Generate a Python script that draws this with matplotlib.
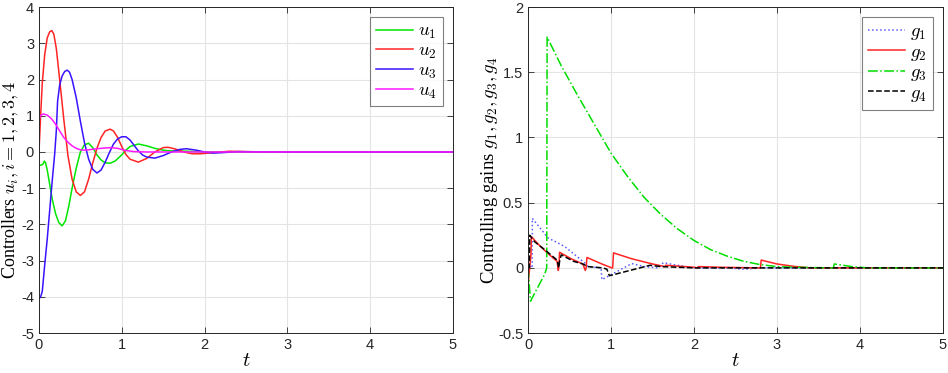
import matplotlib
matplotlib.use("Agg")
import matplotlib.pyplot as plt
import numpy as np

plt.rcParams['font.family'] = ['Liberation Sans', 'DejaVu Sans']
plt.rcParams['mathtext.fontset'] = 'cm'

# ---------------- left panel data ----------------
t_u1 = [0, 0.03, 0.05, 0.065, 0.08, 0.1, 0.13, 0.16, 0.2, 0.24, 0.28, 0.32, 0.36, 0.4, 0.45,
        0.5, 0.55, 0.6, 0.65, 0.7, 0.75, 0.8, 0.86, 0.92, 1.0, 1.05, 1.1, 1.2, 1.3, 1.4, 1.5,
        1.6, 1.8, 2.0, 5.0]
u1 = [-0.37, -0.36, -0.33, -0.25, -0.3, -0.5, -0.9, -1.3, -1.7, -1.95, -2.04, -1.9, -1.5, -1.0, -0.45,
      0.0, 0.2, 0.24, 0.12, -0.08, -0.22, -0.3, -0.31, -0.25, -0.08, 0.05, 0.15, 0.22, 0.17, 0.1, 0.05,
      0.03, 0.02, 0.0, 0.0]

t_u2 = [0, 0.02, 0.04, 0.07, 0.1, 0.13, 0.155, 0.18, 0.21, 0.25, 0.3, 0.35, 0.4, 0.45, 0.5, 0.55,
        0.6, 0.65, 0.7, 0.75, 0.8, 0.86, 0.9, 0.95, 1.0, 1.05, 1.1, 1.2, 1.3, 1.4, 1.5, 1.56, 1.65,
        1.75, 1.85, 1.95, 2.1, 2.3, 2.5, 2.8, 5.0]
u2 = [0.0, 1.0, 1.9, 2.7, 3.15, 3.32, 3.35, 3.25, 2.85, 2.0, 0.9, -0.1, -0.75, -1.1, -1.2, -1.1,
      -0.75, -0.3, 0.1, 0.4, 0.58, 0.63, 0.58, 0.4, 0.15, -0.07, -0.2, -0.28, -0.18, 0.0, 0.12, 0.13, 0.08,
      0.0, -0.05, -0.05, -0.02, 0.02, 0.01, 0.0, 0.0]

t_u3 = [0, 0.02, 0.04, 0.07, 0.1, 0.13, 0.16, 0.19, 0.21, 0.225, 0.25, 0.28, 0.31, 0.34, 0.37, 0.4,
        0.45, 0.5, 0.55, 0.6, 0.65, 0.7, 0.75, 0.8, 0.85, 0.9, 0.95, 1.0, 1.05, 1.1, 1.15, 1.2, 1.25,
        1.3, 1.4, 1.5, 1.6, 1.7, 1.78, 1.9, 2.0, 2.1, 2.2, 2.4, 2.6, 3.0, 5.0]
u3 = [-4.05, -4.0, -3.85, -3.1, -2.4, -1.6, -0.8, -0.05, 0.6, 1.4, 1.85, 2.1, 2.22, 2.26, 2.2, 2.0,
      1.5, 0.85, 0.25, -0.2, -0.48, -0.58, -0.5, -0.28, -0.02, 0.22, 0.36, 0.42, 0.42, 0.33, 0.18, 0.03, -0.08,
      -0.14, -0.17, -0.1, 0.0, 0.07, 0.09, 0.05, 0.0, -0.03, -0.02, 0.01, 0.005, 0.0, 0.0]

t_u4 = [0, 0.015, 0.05, 0.1, 0.15, 0.2, 0.25, 0.3, 0.35, 0.4, 0.45, 0.5, 0.55, 0.6, 0.7, 0.8, 0.87,
        0.95, 1.0, 1.05, 1.15, 1.3, 5.0]
u4 = [0.88, 1.0, 1.05, 1.02, 0.92, 0.77, 0.58, 0.4, 0.27, 0.17, 0.1, 0.06, 0.05, 0.06, 0.09, 0.11, 0.12,
      0.1, 0.07, 0.04, 0.01, 0.0, 0.0]

# ---------------- right panel data ----------------
t_g1 = [0, 0.02, 0.04, 0.05, 0.052, 0.24, 0.44, 0.68, 0.72, 0.88, 0.89, 1.25, 1.4, 1.57, 1.63, 1.8, 2.0,
        2.4, 2.6, 2.8, 5.0]
g1 = [0.0, 0.02, 0.0, 0.0, 0.38, 0.23, 0.165, 0.04, 0.01, 0.0, -0.09, 0.033, 0.01, 0.0, 0.04, 0.02, 0.0,
      0.0, -0.01, 0.0, 0.0]

t_g2 = [0, 0.035, 0.04, 0.125, 0.24, 0.35, 0.365, 0.372, 0.38, 0.52, 0.66, 0.69, 0.70, 0.71, 0.89, 1.01,
        1.02, 1.03, 1.25, 1.5, 1.65, 1.66, 1.77, 2.0, 2.04, 2.05, 2.3, 2.8, 2.81, 3.0, 3.2, 3.4, 5.0]
g2 = [-0.13, 0.1, 0.24, 0.18, 0.11, 0.05, -0.02, 0.01, 0.12, 0.07, 0.03, -0.02, 0.0, 0.08, 0.03, 0.0,
      0.0, 0.115, 0.07, 0.03, 0.01, 0.02, 0.015, 0.005, 0.0, 0.01, 0.005, 0.0, 0.06, 0.03, 0.012, 0.0, 0.0]

t_g3 = [0, 0.03, 0.1, 0.2, 0.225, 0.23, 0.4, 0.6, 0.8, 1.0, 1.2, 1.4, 1.6, 1.8, 2.0, 2.2, 2.4, 2.6, 2.8,
        3.0, 3.2, 3.68, 3.69, 3.9, 4.1, 5.0]
g3 = [0.0, -0.255, -0.17, -0.05, 0.0, 1.77, 1.55, 1.32, 1.1, 0.88, 0.7, 0.54, 0.41, 0.3, 0.21, 0.14,
      0.09, 0.05, 0.025, 0.01, 0.005, 0.0, 0.03, 0.01, 0.0, 0.0]

t_g4 = [0, 0.015, 0.02, 0.08, 0.2, 0.35, 0.37, 0.38, 0.4, 0.55, 0.66, 0.72, 0.9, 0.95, 0.98, 1.47, 1.6,
        2.0, 5.0]
g4 = [0.0, 0.0, 0.25, 0.2, 0.14, 0.06, 0.0, 0.05, 0.1, 0.05, 0.03, 0.01, 0.0, -0.01, -0.06, 0.02, 0.01,
      0.0, 0.0]

fig = plt.figure(figsize=(9.48, 3.73), dpi=100)
ax1 = fig.add_axes([0.0411, 0.107, 0.4367, 0.874])
ax2 = fig.add_axes([0.557, 0.107, 0.4377, 0.874])

lw = 1.1
ax1.plot(t_u1, u1, color='#00e600', lw=lw, label='$u_1$')
ax1.plot(t_u2, u2, color='#ff2424', lw=lw, label='$u_2$')
ax1.plot(t_u3, u3, color='#3a12ff', lw=lw, label='$u_3$')
ax1.plot(t_u4, u4, color='#ff19ff', lw=lw, label='$u_4$')

ax2.plot(t_g1, g1, color='#5a5aff', lw=lw, ls=':', label='$g_1$')
ax2.plot(t_g2, g2, color='#ff2424', lw=lw, ls='-', label='$g_2$')
ax2.plot(t_g3, g3, color='#00dd00', lw=lw, ls='-.', label='$g_3$')
ax2.plot(t_g4, g4, color='black', lw=lw, ls='--', label='$g_4$')

for ax in (ax1, ax2):
    ax.set_xlim(0, 5)
    ax.set_xticks([0, 1, 2, 3, 4, 5])
    ax.grid(True, color='#e4e4e4', lw=0.8)
    ax.set_axisbelow(True)
    ax.tick_params(direction='in', top=True, right=True, labelsize=10.5,
                   colors='#262626', length=4, width=0.6)
    for s in ax.spines.values():
        s.set_color('#262626')
        s.set_linewidth(0.7)
    ax.set_xlabel('$t$', fontsize=15, labelpad=-1)
    leg = ax.legend(loc='upper right', fontsize=13.5, handlelength=2.0, frameon=True,
                    fancybox=False, borderpad=0.3, labelspacing=0.08, handletextpad=0.25,
                    borderaxespad=0.55)
    leg.get_frame().set_edgecolor('#606060')
    leg.get_frame().set_linewidth(0.8)

ax1.set_ylim(-5, 4)
ax1.set_yticks(range(-5, 5))
ax1.set_yticklabels([str(v) for v in range(-5, 5)])
ax2.set_ylim(-0.5, 2)
ax2.set_yticks([-0.5, 0, 0.5, 1, 1.5, 2])
ax2.set_yticklabels(['-0.5', '0', '0.5', '1', '1.5', '2'])

ax1.set_ylabel('Controllers $u_i, i = 1, 2, 3, 4$', fontsize=13, family='Liberation Serif')
ax2.set_ylabel('Controlling gains $g_1, g_2, g_3, g_4$', fontsize=13.5, family='Liberation Serif')
ax1.yaxis.set_label_coords(-0.0435, 0.47)
ax2.yaxis.set_label_coords(-0.0675, 0.5)

fig.savefig('out.png', dpi=100)
